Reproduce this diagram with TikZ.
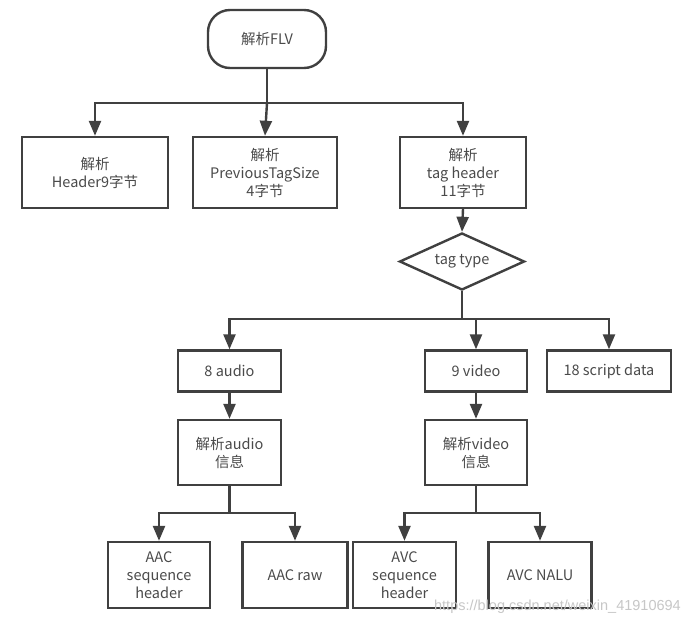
\documentclass[tikz,border=0pt]{standalone}
\usepackage{fontspec}
\setmainfont{Noto Sans CJK SC}
\newfontfamily\wmfont{Liberation Sans}
\usetikzlibrary{shapes.geometric,arrows.meta}
\definecolor{ln}{HTML}{404040}
\definecolor{tx}{HTML}{4A4A4A}
\tikzset{
  box/.style={draw=ln, line width=2.4pt, fill=white, text=tx, align=center, font=\fontsize{14.5}{18}\selectfont, inner sep=0pt},
  term/.style={box, rounded corners=22pt},
  dia/.style={draw=ln, line width=2.4pt, fill=white, text=tx, diamond, aspect=2.2, inner sep=0pt, font=\fontsize{14.5}{18}\selectfont},
  arr/.style={draw=ln, line width=2.4pt, -{Triangle[length=15pt,width=12pt]}},
  con/.style={draw=ln, line width=2.4pt},
}
\begin{document}
\begin{tikzpicture}[x=1pt,y=-1pt]
\useasboundingbox (0,0) rectangle (688,626);
\fill[white] (0,0) rectangle (688,626);
% nodes
\node[term, minimum width=118pt, minimum height=58pt] (flv) at (267,39) {解析FLV};
\node[box, minimum width=146pt, minimum height=71pt] (hdr) at (95,172.5) {解析\\Header9字节};
\node[box, minimum width=144pt, minimum height=71pt] (pts) at (265,172.5) {解析\\PreviousTagSize\\4字节};
\node[box, minimum width=126pt, minimum height=71pt] (th) at (463,172.5) {解析\\tag header\\11字节};
\node[dia, minimum width=125pt, minimum height=57pt] (tt) at (462,261.5) {tag type};
\node[box, minimum width=103pt, minimum height=41pt] (au) at (229.5,371) {8 audio};
\node[box, minimum width=102pt, minimum height=41pt] (vi) at (476,371) {9 video};
\node[box, minimum width=124pt, minimum height=41pt] (sd) at (609,371) {18 script data};
\node[box, minimum width=103pt, minimum height=65pt] (aui) at (229.5,452.5) {解析audio\\信息};
\node[box, minimum width=102pt, minimum height=65pt] (vii) at (476,452.5) {解析video\\信息};
\node[box, minimum width=102pt, minimum height=66pt] (aacs) at (159,575) {AAC\\sequence\\header};
\node[box, minimum width=105pt, minimum height=66pt] (aacr) at (295,575) {AAC raw};
\node[box, minimum width=103pt, minimum height=66pt] (avcs) at (404.5,575) {AVC\\sequence\\header};
\node[box, minimum width=103pt, minimum height=66pt] (avcn) at (540,575) {AVC NALU};
% junctions
\coordinate (j1) at (267,103);
\coordinate (j2) at (462,319);
\coordinate (j3) at (229.5,513);
\coordinate (j4) at (476,513);
% connectors
\draw[con] (flv.south) -- (j1);
\draw[arr] (j1) -| (hdr.north);
\draw[arr] (j1) -- (pts.north);
\draw[arr] (j1) -| (th.north);
\draw[arr] (th.south) -- (tt.north);
\draw[con] (tt.south) -- (j2);
\draw[arr] (j2) -| (au.north);
\draw[arr] (j2) -| (vi.north);
\draw[arr] (j2) -| (sd.north);
\draw[arr] (au.south) -- (aui.north);
\draw[arr] (vi.south) -- (vii.north);
\draw[con] (aui.south) -- (j3);
\draw[arr] (j3) -| (aacs.north);
\draw[arr] (j3) -| (aacr.north);
\draw[con] (vii.south) -- (j4);
\draw[arr] (j4) -| (avcs.north);
\draw[arr] (j4) -| (avcn.north);
% watermark
\node[text=black!22, font=\wmfont\fontsize{14.5}{16}\selectfont, anchor=east, inner sep=0pt] (wm) at (681,607) {https://blog.csdn.net/weixin\_41910694};
\end{tikzpicture}
\end{document}
